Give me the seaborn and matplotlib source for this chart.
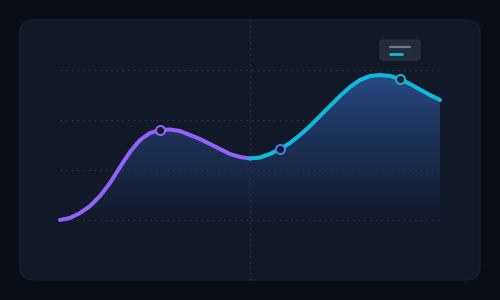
import numpy as np
import pandas as pd
import matplotlib
matplotlib.use("Agg")
import matplotlib.pyplot as plt
from matplotlib.patches import FancyBboxPatch
from matplotlib.colors import to_rgb
import seaborn as sns

# ---- data ----
steps = list(range(39))
values = [0, 1, 3.5, 7, 12, 18.5, 26.5, 34, 40, 43.5, 45, 45.25, 44.5, 42.5,
          40.5, 38, 35.5, 33, 31.5, 30.75, 31.25, 33, 35.5, 38.5, 42.5, 47, 52,
          57, 62, 66.5, 70, 72, 72.5, 72, 70.5, 68, 65.25, 62.5, 60]
split_step = 19
marker_steps = [10, 22, 34]
marker_colors = ["#9466f7", "#3b82f6", "#0fb8d8"]
grid_values = [0, 25, 50, 75]

PURPLE = "#9163f6"
CYAN = "#0fbad9"
BG = "#0a0e17"
PANEL = "#111827"

sns.set_theme(style="dark")
plt.rcParams['font.family'] = ['DejaVu Sans']

fig = plt.figure(figsize=(5, 3), dpi=100, facecolor=BG)
ax = fig.add_axes([0, 0, 1, 1])
ax.set_facecolor(BG)
# pixel mapping: x_px = 60 + 10*step ; y_px = 220 - 2*value
ax.set_xlim(-6, 44)
ax.set_ylim(-40, 110)
ax.axis("off")

# panel
panel = FancyBboxPatch((-4, -30), 46, 130,
                       boxstyle="round,pad=0,rounding_size=1.6",
                       mutation_aspect=4,
                       facecolor=PANEL, edgecolor="#182033", linewidth=1.0, zorder=0)
ax.add_patch(panel)

# gradient fill under curve
df = pd.DataFrame({"step": steps, "value": values})
poly = ax.fill_between(df["step"], df["value"], -2, color="none", lw=0)
top_c = np.array(to_rgb("#2a4b8a"))
bot_c = np.array(to_rgb(PANEL))
n = 256
t = np.linspace(0, 1, n)[:, None] ** 0.85
grad = (top_c[None, :] * (1 - t) + bot_c[None, :] * t)
grad = np.repeat(grad[:, None, :], 2, axis=1)
im = ax.imshow(grad, extent=[0, 38, -2, 74], aspect="auto",
               origin="upper", zorder=2, interpolation="bilinear")
im.set_clip_path(poly.get_paths()[0], transform=ax.transData)

# grid
for g in grid_values:
    ax.plot([0, 38], [g, g], color="#2b3447", lw=0.9, ls=(0, (1.5, 3)), zorder=3)
ax.plot([split_step, split_step], [-30, 100], color="#2b3447", lw=0.9,
        ls=(0, (1.5, 3)), zorder=3)

# line segments
seg1 = df[df["step"] <= split_step].assign(seg="a")
seg2 = df[df["step"] >= split_step].assign(seg="b")
line_df = pd.concat([seg1, seg2], ignore_index=True)
sns.lineplot(data=line_df, x="step", y="value", hue="seg",
             palette={"a": PURPLE, "b": CYAN}, lw=2.9, legend=False,
             ax=ax, zorder=4, solid_capstyle="round")

# markers
mk = df[df["step"].isin(marker_steps)].copy()
for (s, v), c in zip(mk[["step", "value"]].values, marker_colors):
    ax.plot([s], [v], marker="o", ms=6.5, mfc=PANEL, mec=c, mew=1.4,
            zorder=5, ls="none")

# legend box (top right)
lg = FancyBboxPatch((32, 80), 4, 10,
                    boxstyle="round,pad=0,rounding_size=0.5",
                    mutation_aspect=2,
                    facecolor="#222b3a", edgecolor="#2b3446", lw=0.8, zorder=6)
ax.add_patch(lg)
ax.plot([33, 35], [86.6, 86.6], color="#717886", lw=1.6, zorder=7,
        solid_capstyle="round")
ax.plot([33, 34.2], [83.2, 83.2], color=CYAN, lw=2.0, zorder=7,
        solid_capstyle="round")

fig.savefig("out.png", dpi=100, facecolor=BG)
